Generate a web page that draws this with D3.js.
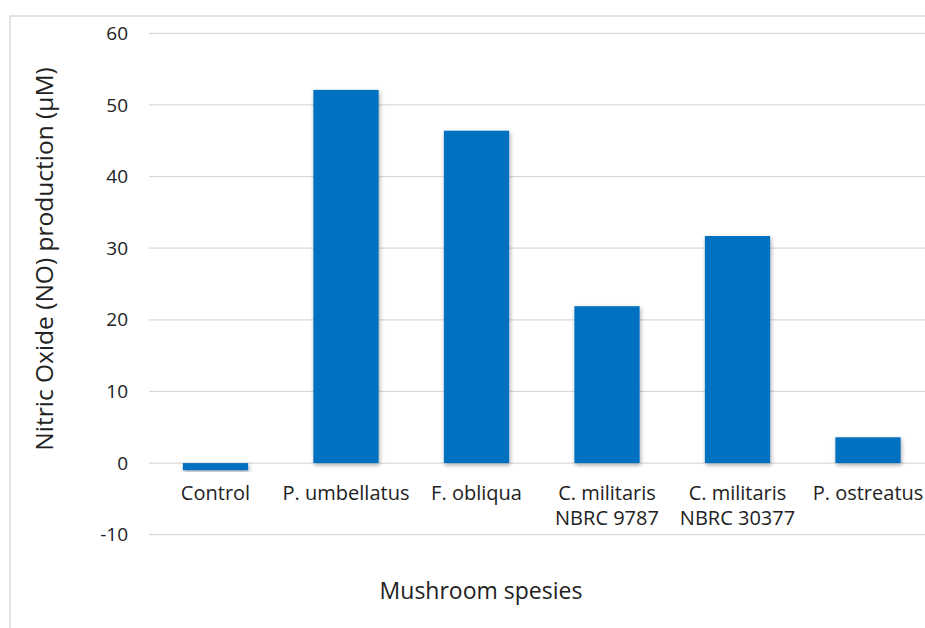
<!DOCTYPE html>
<html><head><meta charset="utf-8">
<script src="https://cdn.jsdelivr.net/npm/d3@7"></script>
<style>body{margin:0;background:#fff}svg{display:block}text{font-family:"Open Sans",Lato,sans-serif;fill:#222}</style>
</head><body>
<script>
const categories = [["Control"],["P. umbellatus"],["F. obliqua"],["C. militaris","NBRC 9787"],["C. militaris","NBRC 30377"],["P. ostreatus"]];
const values = [-1.0, 52.1, 46.4, 21.9, 31.7, 3.6];
const yTicks = [-10, 0, 10, 20, 30, 40, 50, 60];

const W = 925, H = 628;
const svg = d3.select("body").append("svg").attr("width", W).attr("height", H);
const defs = svg.append("defs");
const f = defs.append("filter").attr("id","sh").attr("x","-20%").attr("y","-20%").attr("width","140%").attr("height","140%");
f.append("feDropShadow").attr("dx",1).attr("dy",2).attr("stdDeviation",2).attr("flood-color","#000").attr("flood-opacity",0.35);

svg.append("rect").attr("x",10).attr("y",16).attr("width",W).attr("height",H).attr("fill","none").attr("stroke","#d9d9d9").attr("stroke-width",1.5);

const x = d3.scaleBand().domain(d3.range(categories.length)).range([150.25, 933.25]).paddingInner(0.5).paddingOuter(0.25);
const y = d3.scaleLinear().domain([-10, 60]).range([534.7, 33.3]);

svg.append("g").selectAll("line").data(yTicks).join("line")
  .attr("x1",149).attr("x2",W).attr("y1",d=>y(d)).attr("y2",d=>y(d))
  .attr("stroke","#d9d9d9").attr("stroke-width",1.2);

svg.append("g").selectAll("text").data(yTicks).join("text")
  .attr("x",128).attr("y",d=>y(d)).attr("dy","0.35em").attr("text-anchor","end")
  .style("font-size","19px").text(d=>d);

svg.append("g").selectAll("rect").data(values).join("rect")
  .attr("x",(d,i)=>x(i)).attr("width",x.bandwidth())
  .attr("y",d=>y(Math.max(0,d))).attr("height",d=>Math.abs(y(d)-y(0)))
  .attr("fill","#0070C0").attr("filter","url(#sh)");

const lab = svg.append("g").selectAll("text").data(categories).join("text")
  .attr("x",(d,i)=>x(i)+x.bandwidth()/2).attr("y",500).attr("text-anchor","middle").style("font-size","20px");
lab.selectAll("tspan").data(d=>d).join("tspan")
  .attr("x",function(){return this.parentNode.getAttribute("x");})
  .attr("dy",(d,i)=>i===0?0:"1.25em").text(d=>d);

svg.append("text").attr("transform","translate(53,259) rotate(-90)").attr("text-anchor","middle")
  .style("font-size","24.5px").text("Nitric Oxide (NO) production (µM)");
svg.append("text").attr("x",481).attr("y",599).attr("text-anchor","middle")
  .style("font-size","23px").text("Mushroom spesies");
</script>
</body></html>
